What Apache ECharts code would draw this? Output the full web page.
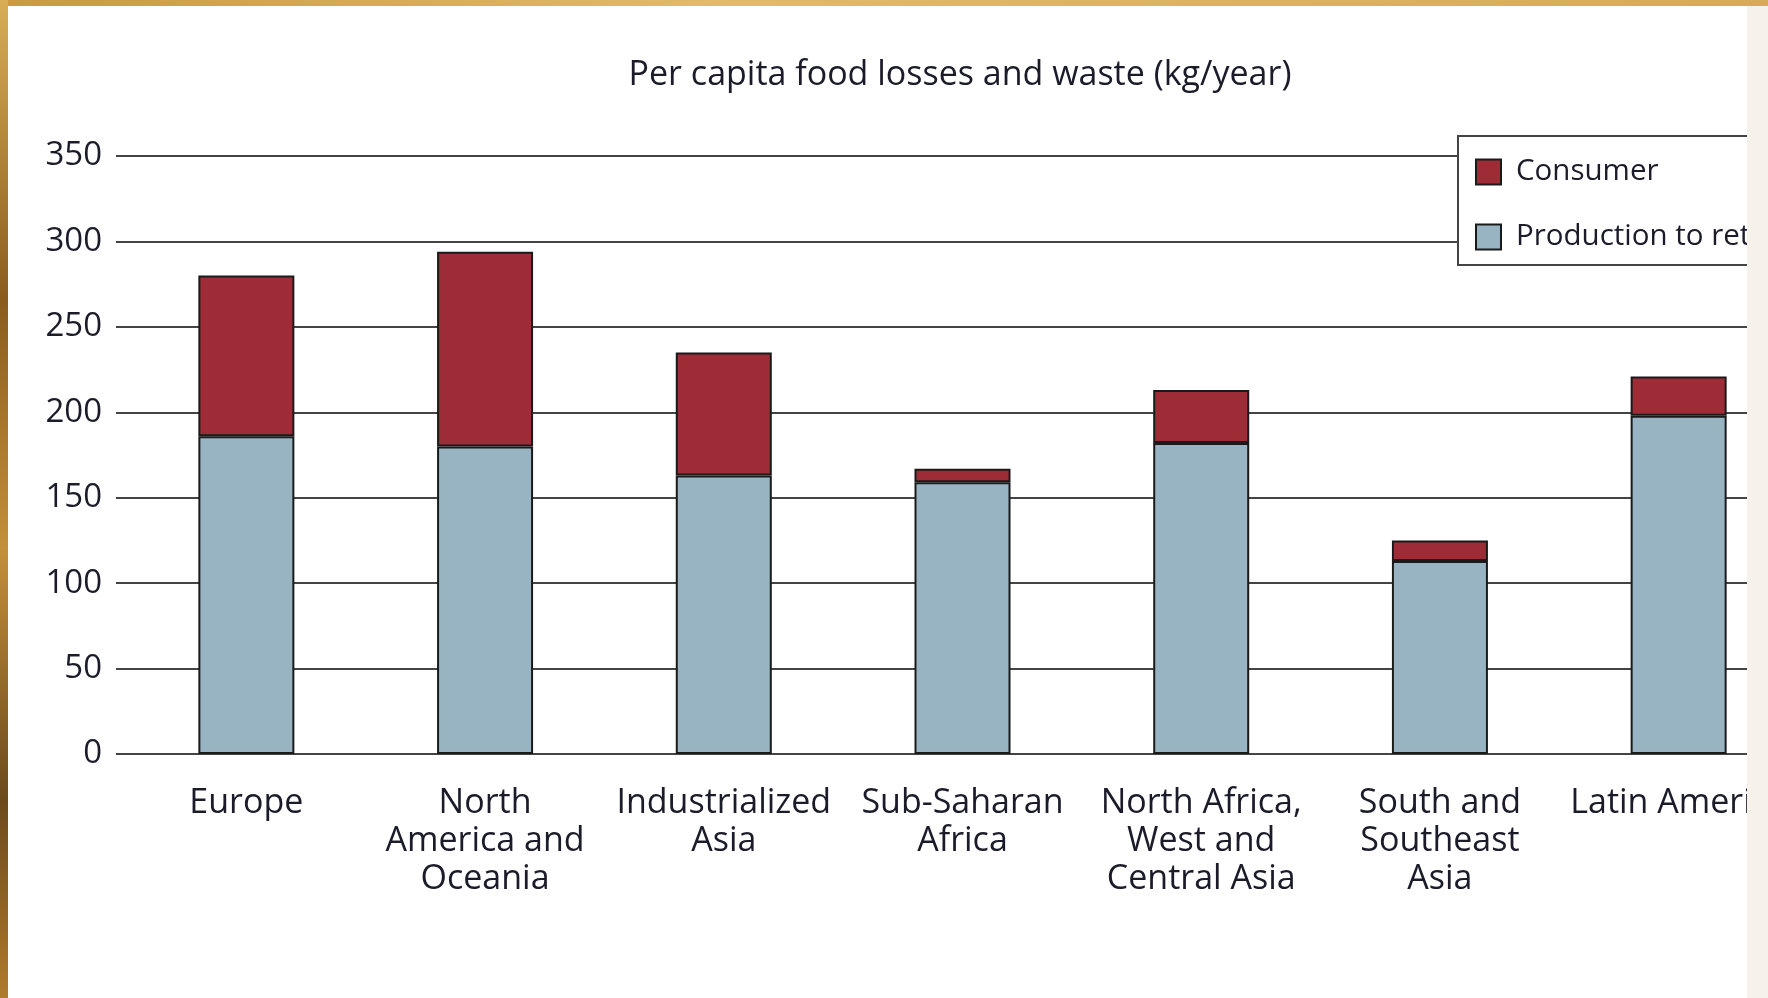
<!DOCTYPE html>
<html>
<head>
<meta charset="utf-8">
<script src="https://cdn.jsdelivr.net/npm/echarts@6/dist/echarts.min.js"></script>
<style>
  html, body { margin: 0; padding: 0; width: 1768px; height: 998px; overflow: hidden; background: #f6f1ea; }
  #topstrip { position: absolute; left: 0; top: 0; width: 1768px; height: 6px; background: linear-gradient(90deg, #c99a3e, #e0bb68 40%, #d6ab55); }
  #leftstrip { position: absolute; left: 0; top: 0; width: 8px; height: 998px; background: linear-gradient(180deg, #d8ad56, #8a5d1e 30%, #c48f3a 55%, #6b4a1c 80%, #b07a2c); }
  #clip { position: absolute; left: 8px; top: 6px; width: 1739px; height: 992px; overflow: hidden; background: #fff; }
  #view { position: absolute; left: -8px; top: -6px; width: 1920px; height: 998px; }
</style>
</head>
<body>
<div id="topstrip"></div>
<div id="leftstrip"></div>
<div id="clip"><div id="view"></div></div>
<script>
var regions = [
    'Europe',
    'North\nAmerica and\nOceania',
    'Industrialized\nAsia',
    'Sub-Saharan\nAfrica',
    'North Africa,\nWest and\nCentral Asia',
    'South and\nSoutheast\nAsia',
    'Latin America'
];
// kg per person per year
var production = [186, 180, 163, 159, 182, 113, 198];
var consumer = [94, 114, 72, 8, 31, 12, 23];

var font = 'Open Sans';
var ink = '#1b1b29';
var rule = '#444';

var myChart = echarts.init(document.getElementById('view'));

var option = {
    animation: false,
    title: {
        text: 'Per capita food losses and waste (kg/year)',
        left: 'center',
        top: 58,
        padding: 0,
        textStyle: { fontFamily: font, fontSize: 34, fontWeight: 500, color: ink }
    },
    legend: {
        data: ['Consumer', 'Production to retail'],
        orient: 'vertical',
        left: 1458,
        top: 136,
        padding: [21, 300, 13, 17],
        itemWidth: 25,
        itemHeight: 25,
        itemGap: 35,
        icon: 'rect',
        backgroundColor: '#fff',
        borderColor: rule,
        borderWidth: 2,
        textStyle: { fontFamily: font, fontSize: 29.5, fontWeight: 500, color: ink, padding: [0, 0, 0, 10] }
    },
    grid: { left: 127, right: 122, top: 156, bottom: 244 },
    xAxis: {
        type: 'category',
        data: regions,
        axisLine: { lineStyle: { color: rule, width: 2 } },
        axisTick: { length: 10, lineStyle: { color: rule, width: 2 } },
        axisLabel: {
            interval: 0,
            margin: 30,
            fontFamily: font,
            fontSize: 34,
            fontWeight: 500,
            lineHeight: 38,
            color: ink
        }
    },
    yAxis: {
        type: 'value',
        min: 0,
        max: 350,
        interval: 50,
        axisLine: { show: false },
        axisTick: { show: true, length: 11, lineStyle: { color: rule, width: 2 } },
        splitLine: { lineStyle: { color: rule, width: 2 } },
        axisLabel: { margin: 25, fontFamily: font, fontSize: 33, fontWeight: 500, color: ink }
    },
    series: [
        {
            name: 'Production to retail',
            type: 'bar',
            stack: 'total',
            barWidth: 96,
            data: production,
            itemStyle: { color: '#98b4c2', borderColor: '#1a1a1a', borderWidth: 2 }
        },
        {
            name: 'Consumer',
            type: 'bar',
            stack: 'total',
            barWidth: 96,
            data: consumer,
            itemStyle: { color: '#9e2c36', borderColor: '#1a1a1a', borderWidth: 2 }
        }
    ]
};

myChart.setOption(option);
</script>
</body>
</html>
